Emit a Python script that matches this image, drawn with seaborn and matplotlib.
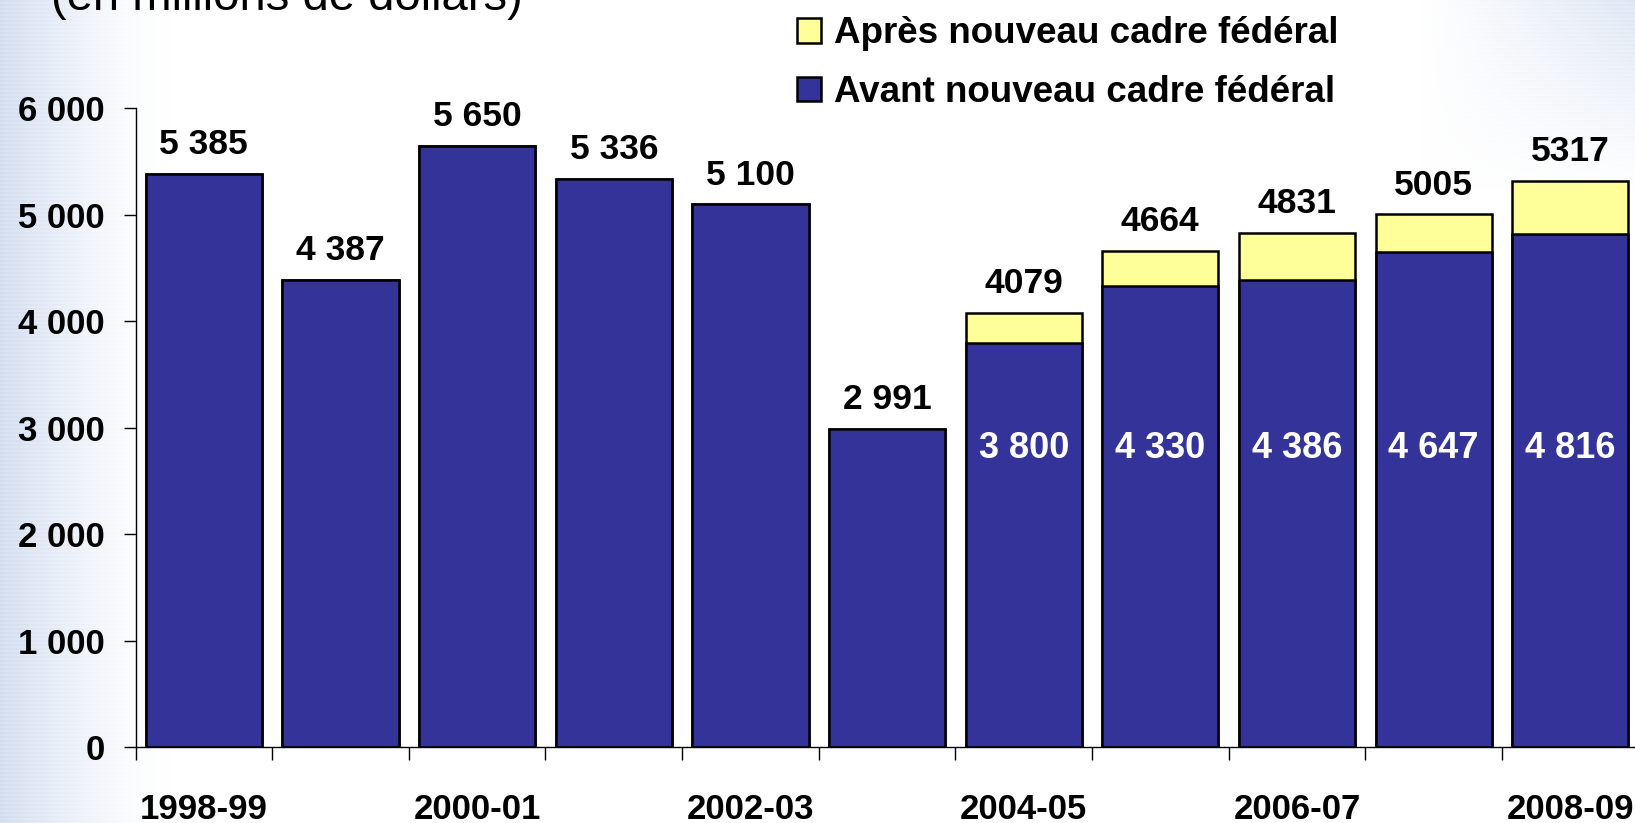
import numpy as np
import pandas as pd
import seaborn as sns
import matplotlib.pyplot as plt
from matplotlib.patches import Patch

sns.set_style("white")
plt.rcParams['font.family'] = ['Liberation Sans', 'DejaVu Sans']
plt.rcParams['text.color'] = 'black'
plt.rcParams['xtick.color'] = 'black'
plt.rcParams['ytick.color'] = 'black'

years = ["1998-99", "1999-00", "2000-01", "2001-02", "2002-03", "2003-04",
         "2004-05", "2005-06", "2006-07", "2007-08", "2008-09"]
avant = [5385, 4387, 5650, 5336, 5100, 2991, 3800, 4330, 4386, 4647, 4816]
total = [5385, 4387, 5650, 5336, 5100, 2991, 4079, 4664, 4831, 5005, 5317]
has_apres = [False, False, False, False, False, False, True, True, True, True, True]
year_labels = ["1998-99", "2000-01", "2002-03", "2004-05", "2006-07", "2008-09"]

navy = "#333399"
yellow = "#FFFF99"

df = pd.DataFrame({"annee": years, "avant": avant, "total": total})

W, H = 1635, 823
fig = plt.figure(figsize=(W / 100, H / 100), dpi=100)

# background: bluish striped fade at left edge and top-right corner
bg = fig.add_axes([0, 0, 1, 1])
xx = np.arange(W)[None, :]
yy = np.arange(H)[:, None]
left = np.clip(1 - xx / 170.0, 0, 1) ** 1.5
corner = np.clip((xx - 1420) / 215.0, 0, 1) * np.clip(1 - yy / 190.0, 0, 1)
strength = np.clip(left * 0.75 + corner * 0.55, 0, 1)
stripes = 0.85 + 0.15 * (np.arange(H) % 4 < 2)[:, None]
strength = strength * stripes
blue = np.array([0.76, 0.82, 0.92])
img = 1 - strength[..., None] * (1 - blue[None, None, :])
bg.imshow(img, aspect="auto", extent=[0, 1, 0, 1])
bg.axis("off")

ax = fig.add_axes([0.0829, 0.0921, 0.9193, 0.7762])
ax.patch.set_alpha(0)

sns.barplot(data=df, x="annee", y="total", color=yellow, width=0.85,
            edgecolor="black", linewidth=1.8, saturation=1, ax=ax)
sns.barplot(data=df, x="annee", y="avant", color=navy, width=0.85,
            edgecolor="black", linewidth=1.8, saturation=1, ax=ax)

ax.set_xlim(-0.5, len(years) - 0.5)
ax.set_ylim(0, 6000)
ax.set_xlabel("")
ax.set_ylabel("")

# labels above bars
for i, (a, t, ap) in enumerate(zip(avant, total, has_apres)):
    top_txt = f"{t}" if ap else f"{t:,}".replace(",", " ")
    ax.annotate(top_txt, (i, t), xytext=(0, 21), textcoords="offset points",
                ha="center", va="center", fontsize=25.5, fontweight="bold",
                color="black")
    if ap:
        ax.text(i, 2810, f"{a:,}".replace(",", " "), ha="center", va="center",
                fontsize=26, fontweight="bold", color="white")

# y axis
ax.set_yticks(np.arange(0, 6001, 1000))
ax.set_yticklabels([f"{v:,}".replace(",", " ") for v in range(0, 6001, 1000)],
                   fontsize=25, fontweight="bold", color="black")
ax.tick_params(axis="y", length=9, width=1, color="black", direction="out", pad=13, left=True)

# x axis: ticks at category boundaries, labels every other year
ax.set_xticks(np.arange(-0.5, len(years), 1.0))
ax.set_xticklabels([])
ax.tick_params(axis="x", which="major", length=9.5, width=1, color="black", direction="out", bottom=True)
ax.set_xticks([years.index(y) for y in year_labels], minor=True)
ax.set_xticklabels(year_labels, minor=True, fontsize=25, fontweight="bold", color="black")
ax.tick_params(axis="x", which="minor", length=0, pad=33)

for s in ["top", "right"]:
    ax.spines[s].set_visible(False)
for s in ["left", "bottom"]:
    ax.spines[s].set_color("black")
    ax.spines[s].set_linewidth(1.0)

handles = [Patch(facecolor=yellow, edgecolor="black", linewidth=1.8),
           Patch(facecolor=navy, edgecolor="black", linewidth=1.8)]
fig.legend(handles, ["Après nouveau cadre fédéral", "Avant nouveau cadre fédéral"],
           loc="upper left", bbox_to_anchor=(0.483, 0.989), frameon=False,
           prop={"size": 26.5, "weight": "bold"}, handlelength=0.65, handleheight=0.65,
           handletextpad=0.35, labelspacing=0.64, borderaxespad=0, borderpad=0.2,
           labelcolor="black")

fig.text(0.031, 1 - 10 / H, "(en millions de dollars)", fontsize=34,
         ha="left", va="baseline", color="black")

fig.savefig("out.png", dpi=100)
